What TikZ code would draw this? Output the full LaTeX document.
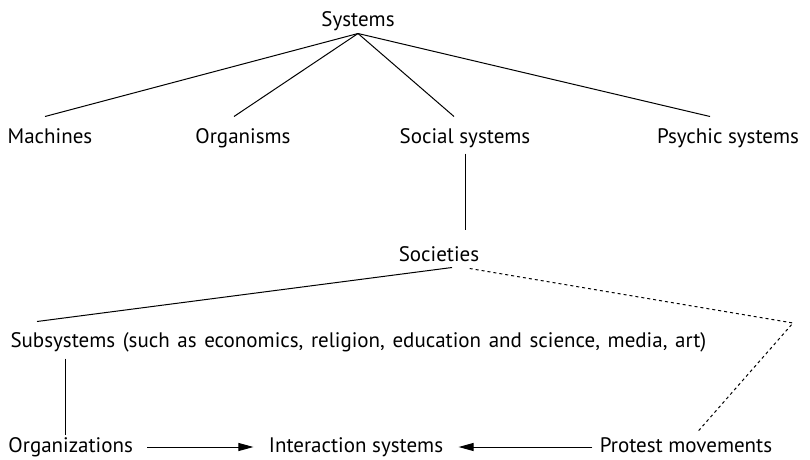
\documentclass[tikz,border=0pt]{standalone}
\usepackage{fontspec}
\setmainfont{PT Sans}
\usetikzlibrary{arrows.meta}
\begin{document}
\begin{tikzpicture}[x=1pt, y=1pt,
  every node/.style={font=\fontsize{21}{24}\selectfont, inner sep=0pt, text height=14pt, text depth=4pt, anchor=base},
  every path/.style={line width=1pt},
  arr/.style={-{Triangle[length=15pt,width=8pt]}}
]
  \useasboundingbox (0,0) rectangle (810,459);
  \node (sys) at (358,432) {Systems};
  \node (mach) at (50,316) {Machines};
  \node (org) at (243,316) {Organisms};
  \node (soc) at (465,316) {Social systems};
  \node (psy) at (728,316) {Psychic systems};
  \node (scty) at (439,198) {Societies};
  \node[anchor=base west, font={\fontsize{21}{24}\selectfont\spaceskip=7.6pt\relax}] (sub) at (10,112)
    {Subsystems (such as economics, religion, education and science, media, art)};
  \node[anchor=base west] (orgz) at (8,7) {Organizations};
  \node (inter) at (356,7) {Interaction systems};
  \node (prot) at (686,7) {Protest movements};
  \coordinate (bend) at (793,136);
  % kinds of systems
  \draw ([yshift=-2pt]sys.south) -- ([shift={(-5,12)}]mach.north);
  \draw ([yshift=-2pt]sys.south) -- ([shift={(-9,12)}]org.north);
  \draw ([yshift=-2pt]sys.south) -- ([shift={(-11,12)}]soc.north);
  \draw ([yshift=-2pt]sys.south) -- ([shift={(-18,12)}]psy.north);
  \draw[shorten <=6pt, shorten >=17pt] (soc.south) -- (soc.south |- scty.north);
  % below societies
  \draw ([shift={(13,-2)}]scty.south) -- ([shift={(27,11)}]sub.north west);
  \draw[dashed] ([shift={(-10,-3)}]scty.south east) -- (bend) -- ([shift={(11,5)}]prot.north);
  \draw[shorten <=7pt, shorten >=3pt] ([xshift=-5pt]orgz.north |- sub.south) -- ([xshift=-5pt]orgz.north);
  \draw[arr, shorten <=14pt, shorten >=15pt] (orgz.east) -- (inter.west);
  \draw[arr, shorten <=7pt, shorten >=15pt] (prot.west) -- (inter.east);
\end{tikzpicture}
\end{document}
